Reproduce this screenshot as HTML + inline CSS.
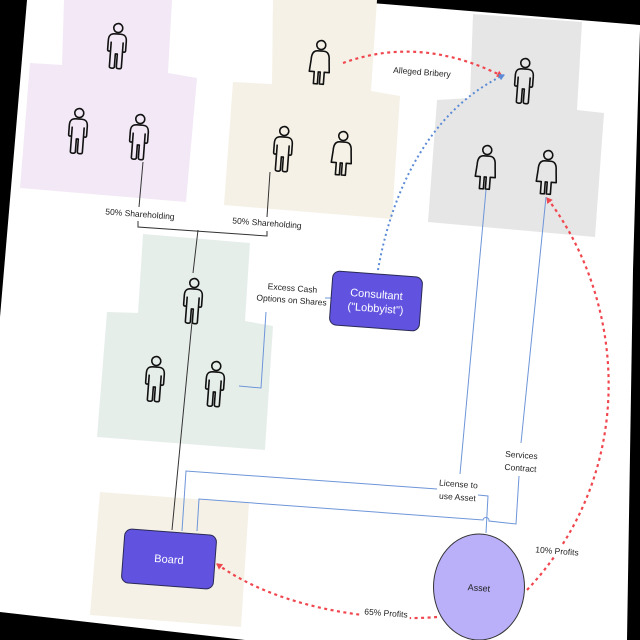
<!DOCTYPE html>
<html><head><meta charset="utf-8"><style>
html,body{margin:0;padding:0;background:#000;width:640px;height:640px;overflow:hidden}
svg{display:block}
text{font-family:"Liberation Sans",sans-serif;fill:#222}
</style></head><body>
<svg width="640" height="640" viewBox="0 0 640 640" xmlns="http://www.w3.org/2000/svg">
<defs>
<g id="man" fill="none" stroke="#111" stroke-width="1.6" stroke-linejoin="round">
<circle cx="0" cy="-17" r="4.5"/>
<path d="M-3,-11 C-8,-11 -9,-8 -9,-4 L-9,5 C-9,7 -7,7 -6,6 L-6,22 C-6,24 -1,24 -1,22 L-1,9 L1,9 L1,22 C1,24 6,24 6,22 L6,6 C7,7 9,7 9,5 L9,-4 C9,-8 8,-11 3,-11 Z M-6,-3 L-6,6 M6,-3 L6,6"/>
</g>
<g id="woman" fill="none" stroke="#111" stroke-width="1.6" stroke-linejoin="round">
<circle cx="0" cy="-17" r="4.5"/>
<path d="M-3,-11 C-8,-11 -9,-6 -9,-2 L-10,10 L-5,10 L-5,22 L-1,22 L-1,10 L1,10 L1,22 L5,22 L5,10 L10,10 L9,-2 C9,-6 8,-11 3,-11 Z"/>
</g>
<marker id="ar" markerWidth="7" markerHeight="7" refX="5" refY="3.5" orient="auto" markerUnits="userSpaceOnUse"><path d="M0,0 L6,3.5 L0,7 Z" fill="#f0474f"/></marker>
<marker id="ab" markerWidth="7" markerHeight="7" refX="5" refY="3.5" orient="auto" markerUnits="userSpaceOnUse"><path d="M0,0 L6,3.5 L0,7 Z" fill="#5b8bd6"/></marker>
</defs>
<polygon points="27,0 335,0 640,25 640,30 633,270 627,640 245,640 0,612 0,317" fill="#fff"/>
<polygon points="64,0 172,0 168,73 197,78 186,202 20,188 30,63 62,65" fill="#f2e8f6"/>
<polygon points="273,0 377,0 371,91 400,96 392,219 224,205 233,82 272,84" fill="#f5f1e6"/>
<polygon points="473,14 582,22 577,110 604,113 595,237 428,222 437,100 470,98" fill="#e6e6e6"/>
<polygon points="143,234 250,243 245,321 273,326 265,450 97,437 107,312 138,313" fill="#e6eeea"/>
<polygon points="100,492 249,503 241,627 90,615" fill="#f5f1e6"/>
<g stroke="#333" stroke-width="1" fill="none">
<path d="M143,162 L139,207"/>
<path d="M138,221 L138,227 L267,236 L267,231"/>
<path d="M270,172 L267,217"/>
<path d="M198,230 L193,273"/>
<path d="M192,322 L172,530"/>
</g>
<g stroke="#6d95d8" stroke-width="1" fill="none">
<path d="M486,190 L460,474"/>
<path d="M182,531 L186,471 L437,489"/>
<path d="M478,495 L488,496 L486,533"/>
<path d="M197,531 L199,499 L483,520 A3,3 0 0 1 489,521 L516,524 L519,476"/>
<path d="M521,443 L546,197"/>
<path d="M239,386 L261,388 L266,312"/>
<path d="M325,298 L331,298"/>
</g>
<g transform="rotate(4.3 376 301)"><rect x="331" y="274" width="90" height="54" rx="7" fill="#6153e0" stroke="#2a2a55" stroke-width="1"/>
<text x="376" y="298" font-size="11" text-anchor="middle" style="fill:#fff">Consultant</text>
<text x="376" y="312" font-size="11" text-anchor="middle" style="fill:#fff">("Lobbyist")</text></g>
<g transform="rotate(4.3 169 559)"><rect x="123" y="532" width="92" height="54" rx="7" fill="#6153e0" stroke="#2a2a55" stroke-width="1"/>
<text x="169" y="563" font-size="11" text-anchor="middle" style="fill:#fff">Board</text></g>
<ellipse cx="479" cy="587" rx="45.5" ry="53" fill="#b9b0f9" stroke="#333" stroke-width="1"/>
<text x="479" y="591" font-size="9" text-anchor="middle" transform="rotate(4.3 479 587)">Asset</text>
<g fill="none" stroke-width="2.2" stroke-dasharray="3 3.5">
<path d="M343,63 Q420,35 502,76" stroke="#f0474f" marker-end="url(#ar)"/>
<path d="M437,617 C380,622 280,610 217,564" stroke="#f0474f" marker-end="url(#ar)"/>
<path d="M527,590 C640,470 625,300 547,198" stroke="#f0474f" marker-end="url(#ar)"/>
</g>
<path d="M378,270 C392,190 430,110 504,75" fill="none" stroke="#5b8bd6" stroke-width="2" stroke-dasharray="2 3" marker-end="url(#ab)"/>
<use href="#man" transform="translate(117,45) rotate(4.3)"/>
<use href="#man" transform="translate(78,130) rotate(4.3)"/>
<use href="#man" transform="translate(139,136) rotate(4.3)"/>
<use href="#woman" transform="translate(320,62) rotate(4.3)"/>
<use href="#man" transform="translate(283,148) rotate(4.3)"/>
<use href="#woman" transform="translate(342,153) rotate(4.3)"/>
<use href="#man" transform="translate(524,80) rotate(4.3)"/>
<use href="#woman" transform="translate(486,167) rotate(4.3)"/>
<use href="#woman" transform="translate(547,172) rotate(4.3)"/>
<use href="#man" transform="translate(193,300) rotate(4.3)"/>
<use href="#man" transform="translate(155,378) rotate(4.3)"/>
<use href="#man" transform="translate(215,383) rotate(4.3)"/>
<g font-size="8.5" text-anchor="middle">
<text x="140" y="217" transform="rotate(4.3 140 214)">50% Shareholding</text>
<text x="267" y="226" transform="rotate(4.3 267 223)">50% Shareholding</text>
<text x="422" y="75" transform="rotate(4.3 422 72)">Alleged Bribery</text>
<g transform="rotate(4.3 292 295)"><rect x="262" y="280" width="62" height="26" fill="#fff"/>
<text x="292" y="291">Excess Cash</text><text x="292" y="303">Options on Shares</text></g>
<g transform="rotate(4.3 458 490)"><rect x="438" y="477" width="40" height="25" fill="#fff"/>
<text x="458" y="487">License to</text><text x="458" y="500">use Asset</text></g>
<g transform="rotate(4.3 521 461)"><rect x="502" y="447" width="38" height="26" fill="#fff"/>
<text x="521" y="458">Services</text><text x="521" y="471">Contract</text></g>
<g transform="rotate(4.3 386 613)"><rect x="362" y="606" width="48" height="13" fill="#fff"/>
<text x="386" y="616">65% Profits</text></g>
<g transform="rotate(4.3 557 551)"><rect x="534" y="544" width="46" height="13" fill="#fff"/>
<text x="557" y="554">10% Profits</text></g>
</g>
</svg>
</body></html>
